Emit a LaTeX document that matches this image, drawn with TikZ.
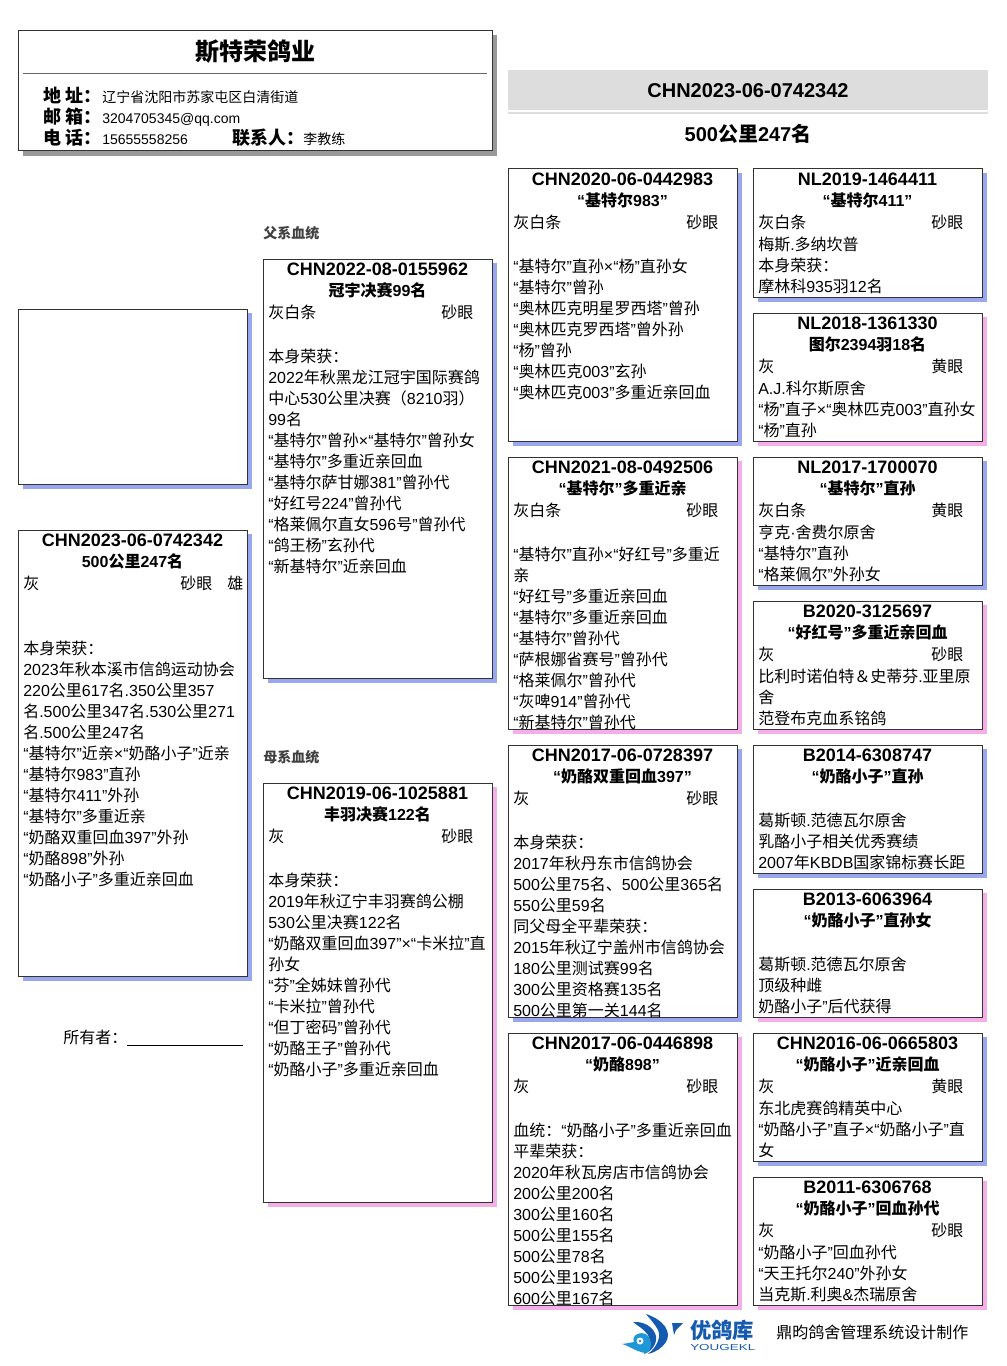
\documentclass[tikz,border=0pt]{standalone}
\usepackage{fontspec}
\usepackage{graphicx}
\setmainfont{Liberation Sans}
\newfontfamily\cjkfam{Noto Sans CJK SC}
\newcount\cjkcount
\newcommand{\cjkrange}[2]{\cjkcount=#1 \loop\ifnum\cjkcount<#2 \XeTeXcharclass\cjkcount=7 \advance\cjkcount by 1 \repeat}
\cjkrange{"3000}{"3040}
\cjkrange{"4E00}{"A000}
\cjkrange{"FF00}{"FFF0}
\XeTeXcharclass"201C=0
\XeTeXcharclass"201D=0
\XeTeXcharclass"00D7=0
\XeTeXcharclass"00B7=0
\XeTeXinterchartoks 0 7 = {\cjkfam}
\XeTeXinterchartoks 7 0 = {\rmfamily}
\XeTeXinterchartoks 4095 7 = {\cjkfam}
\XeTeXinterchartoks 4095 0 = {\rmfamily}
\XeTeXinterchartokenstate=1
\tikzset{
  frameline/.style={color={rgb, 255:red, 51; green, 51; blue, 51 }, line width=0.75pt, fill=white},
  blueback/.style={fill={rgb, 255:red, 153; green, 168; blue, 238 }},
  pinkback/.style={fill={rgb, 255:red, 244; green, 174; blue, 232 }},
  grayback/.style={fill={rgb, 255:red, 153; green, 153; blue, 153 }},
  bandback/.style={fill={rgb, 255:red, 221; green, 221; blue, 221 }},
  ringtext/.style={anchor=base, inner sep=0pt, yshift=-0.75pt, font=\bfseries\fontsize{13.5}{15.75}\selectfont},
  nametext/.style={anchor=base, inner sep=0pt, font=\bfseries\fontsize{12}{15.75}\selectfont},
  linetext/.style={anchor=base west, inner sep=0pt, font=\fontsize{12}{15.75}\selectfont},
  bodytext/.style={anchor=north west, inner sep=0pt, yshift=-2.25pt, align=left, font=\fontsize{12}{15.75}\selectfont, execute at begin node=\rule{0pt}{12pt}},
  headlabel/.style={anchor=base west, inner sep=0pt, yshift=-1.5pt, font=\bfseries\fontsize{13.5}{15.75}\selectfont},
  headvalue/.style={anchor=base west, inner sep=0pt, yshift=-1.1pt, font=\fontsize{10.5}{15.75}\selectfont},
  titletext/.style={anchor=base, inner sep=0pt, yshift=-0.75pt, font=\bfseries\fontsize{15}{18}\selectfont},
  sidetext/.style={anchor=base west, inner sep=0pt, text={rgb, 255:red, 64; green, 64; blue, 64 }, font=\bfseries\fontsize{10.5}{12}\selectfont},
  logodark/.style={fill={rgb, 255:red, 20; green, 90; blue, 175 }},
  logolight/.style={fill={rgb, 255:red, 30; green, 150; blue, 215 }}
}
\begin{document}
\begin{tikzpicture}[x=0.75pt,y=0.75pt,yscale=-1,xscale=1]
\useasboundingbox (0,0) rectangle (1006,1366);
\fill [grayback] (23,35) rectangle (497,156);
\draw [frameline] (18,31) rectangle (492,151);
\draw [color={rgb, 255:red, 102; green, 102; blue, 102 }, line width=0.75pt] (23,74) -- (487,74);
\draw (255,60) node [titletext, font=\bfseries\fontsize{18}{20}\selectfont] (loftname) {斯特荣鸽业};
\draw (43,101) node [headlabel] (addrlabel) {地 址：};
\draw (43,122) node [headlabel] (maillabel) {邮 箱：};
\draw (43,143) node [headlabel] (tellabel) {电 话：};
\draw (232,143) node [headlabel] (contactlabel) {联系人：};
\draw (102,101) node [headvalue] (addrvalue) {辽宁省沈阳市苏家屯区白清街道};
\draw (102,122) node [headvalue] (mailvalue) {3204705345@qq.com};
\draw (102,143) node [headvalue] (telvalue) {15655558256};
\draw (303,143) node [headvalue] (contactvalue) {李教练};
\fill [bandback] (508,70) rectangle (988,110);
\fill [bandback] (508,112) rectangle (988,114);
\draw (748,97) node [titletext] (bandring) {CHN2023-06-0742342};
\draw (748,141) node [titletext] (bandresult) {500公里247名};
\draw (263,238) node [sidetext] (sireside) {父系血统};
\draw (263,762) node [sidetext] (damside) {母系血统};
\fill [blueback] (23,313) rectangle (252,489);
\draw [frameline] (18,309) rectangle (247,484);
\fill [blueback] (23,534) rectangle (252,981);
\draw [frameline] (18,530) rectangle (247,976);
\draw (132.5,545.5) node [ringtext] (selfring) {CHN2023-06-0742342};
\draw (132.5,567) node [nametext] (selfname) {500公里247名};
\draw (23,589) node [linetext] (selfcolour) {灰};
\draw (180,589) node [linetext] (selfeye) {砂眼};
\draw (227,589) node [linetext] (selfsex) {雄};
\draw (23,638) node [bodytext] (selfbody) {本身荣获：\\2023年秋本溪市信鸽运动协会\\220公里617名.350公里357\\名.500公里347名.530公里271\\名.500公里247名\\“基特尔”近亲×“奶酪小子”近亲\\“基特尔983”直孙\\“基特尔411”外孙\\“基特尔”多重近亲\\“奶酪双重回血397”外孙\\“奶酪898”外孙\\“奶酪小子”多重近亲回血};
\draw (63,1043) node [linetext] (ownerlabel) {所有者：};
\coordinate (ownerstart) at (127,1045);
\coordinate (ownerend) at (243,1045);
\draw [line width=0.75pt] (ownerstart) -- (ownerend);
\fill [blueback] (268,263) rectangle (497,683);
\draw [frameline] (263,259) rectangle (492,678);
\draw (377.5,274.5) node [ringtext] (sirering) {CHN2022-08-0155962};
\draw (377.5,296) node [nametext] (sirename) {冠宇决赛99名};
\draw (268,318) node [linetext] (sirecolour) {灰白条};
\draw (441,318) node [linetext] (sireeye) {砂眼};
\draw (268,346) node [bodytext] (sirebody) {本身荣获：\\2022年秋黑龙江冠宇国际赛鸽\\中心530公里决赛（8210羽）\\99名\\“基特尔”曾孙×“基特尔”曾孙女\\“基特尔”多重近亲回血\\“基特尔萨甘娜381”曾孙代\\“好红号224”曾孙代\\“格莱佩尔直女596号”曾孙代\\“鸽王杨”玄孙代\\“新基特尔”近亲回血};
\fill [pinkback] (268,787) rectangle (497,1207);
\draw [frameline] (263,783) rectangle (492,1202);
\draw (377.5,798.5) node [ringtext] (damring) {CHN2019-06-1025881};
\draw (377.5,820) node [nametext] (damname) {丰羽决赛122名};
\draw (268,842) node [linetext] (damcolour) {灰};
\draw (441,842) node [linetext] (dameye) {砂眼};
\draw (268,870) node [bodytext] (dambody) {本身荣获：\\2019年秋辽宁丰羽赛鸽公棚\\530公里决赛122名\\“奶酪双重回血397”×“卡米拉”直\\孙女\\“芬”全姊妹曾孙代\\“卡米拉”曾孙代\\“但丁密码”曾孙代\\“奶酪王子”曾孙代\\“奶酪小子”多重近亲回血};
\fill [blueback] (513,173) rectangle (742,446);
\draw [frameline] (508,169) rectangle (737,441);
\draw (622.5,184.5) node [ringtext] (ssring) {CHN2020-06-0442983};
\draw (622.5,206) node [nametext] (ssname) {“基特尔983”};
\draw (513,228) node [linetext] (sscolour) {灰白条};
\draw (686,228) node [linetext] (sseye) {砂眼};
\draw (513,256) node [bodytext] (ssbody) {“基特尔”直孙×“杨”直孙女\\“基特尔”曾孙\\“奥林匹克明星罗西塔”曾孙\\“奥林匹克罗西塔”曾外孙\\“杨”曾孙\\“奥林匹克003”玄孙\\“奥林匹克003”多重近亲回血};
\fill [pinkback] (513,461) rectangle (742,734);
\draw [frameline] (508,457) rectangle (737,729);
\draw (622.5,472.5) node [ringtext] (sdring) {CHN2021-08-0492506};
\draw (622.5,494) node [nametext] (sdname) {“基特尔”多重近亲};
\draw (513,516) node [linetext] (sdcolour) {灰白条};
\draw (686,516) node [linetext] (sdeye) {砂眼};
\begin{scope}
\clip (508,457) rectangle (737,729);
\draw (513,544) node [bodytext] (sdbody) {“基特尔”直孙×“好红号”多重近\\亲\\“好红号”多重近亲回血\\“基特尔”多重近亲回血\\“基特尔”曾孙代\\“萨根娜省赛号”曾孙代\\“格莱佩尔”曾孙代\\“灰啤914”曾孙代\\“新基特尔”曾孙代};
\end{scope}
\fill [blueback] (513,749) rectangle (742,1022);
\draw [frameline] (508,745) rectangle (737,1017);
\draw (622.5,760.5) node [ringtext] (dsring) {CHN2017-06-0728397};
\draw (622.5,782) node [nametext] (dsname) {“奶酪双重回血397”};
\draw (513,804) node [linetext] (dscolour) {灰};
\draw (686,804) node [linetext] (dseye) {砂眼};
\begin{scope}
\clip (508,745) rectangle (737,1017);
\draw (513,832) node [bodytext] (dsbody) {本身荣获：\\2017年秋丹东市信鸽协会\\500公里75名、500公里365名\\550公里59名\\同父母全平辈荣获：\\2015年秋辽宁盖州市信鸽协会\\180公里测试赛99名\\300公里资格赛135名\\500公里第一关144名};
\end{scope}
\fill [pinkback] (513,1037) rectangle (742,1310);
\draw [frameline] (508,1033) rectangle (737,1305);
\draw (622.5,1048.5) node [ringtext] (ddring) {CHN2017-06-0446898};
\draw (622.5,1070) node [nametext] (ddname) {“奶酪898”};
\draw (513,1092) node [linetext] (ddcolour) {灰};
\draw (686,1092) node [linetext] (ddeye) {砂眼};
\begin{scope}
\clip (508,1033) rectangle (737,1305);
\draw (513,1120) node [bodytext] (ddbody) {血统：“奶酪小子”多重近亲回血\\平辈荣获：\\2020年秋瓦房店市信鸽协会\\200公里200名\\300公里160名\\500公里155名\\500公里78名\\500公里193名\\600公里167名};
\end{scope}
\fill [blueback] (758,173) rectangle (987,302);
\draw [frameline] (753,169) rectangle (982,297);
\draw (867.5,184.5) node [ringtext] (sssring) {NL2019-1464411};
\draw (867.5,206) node [nametext] (sssname) {“基特尔411”};
\draw (758,228) node [linetext] (ssscolour) {灰白条};
\draw (931,228) node [linetext] (ssseye) {砂眼};
\draw (758,234) node [bodytext] (sssbody) {梅斯.多纳坎普\\本身荣获：\\摩林科935羽12名};
\fill [pinkback] (758,317) rectangle (987,446);
\draw [frameline] (753,313) rectangle (982,441);
\draw (867.5,328.5) node [ringtext] (ssdring) {NL2018-1361330};
\draw (867.5,350) node [nametext] (ssdname) {图尔2394羽18名};
\draw (758,372) node [linetext] (ssdcolour) {灰};
\draw (931,372) node [linetext] (ssdeye) {黄眼};
\draw (758,378) node [bodytext] (ssdbody) {A.J.科尔斯原舍\\“杨”直子×“奥林匹克003”直孙女\\“杨”直孙};
\fill [blueback] (758,461) rectangle (987,590);
\draw [frameline] (753,457) rectangle (982,585);
\draw (867.5,472.5) node [ringtext] (sdsring) {NL2017-1700070};
\draw (867.5,494) node [nametext] (sdsname) {“基特尔”直孙};
\draw (758,516) node [linetext] (sdscolour) {灰白条};
\draw (931,516) node [linetext] (sdseye) {黄眼};
\draw (758,522) node [bodytext] (sdsbody) {亨克·舍费尔原舍\\“基特尔”直孙\\“格莱佩尔”外孙女};
\fill [pinkback] (758,605) rectangle (987,734);
\draw [frameline] (753,601) rectangle (982,729);
\draw (867.5,616.5) node [ringtext] (sddring) {B2020-3125697};
\draw (867.5,638) node [nametext] (sddname) {“好红号”多重近亲回血};
\draw (758,660) node [linetext] (sddcolour) {灰};
\draw (931,660) node [linetext] (sddeye) {砂眼};
\draw (758,666) node [bodytext] (sddbody) {比利时诺伯特＆史蒂芬.亚里原\\舍\\范登布克血系铭鸽};
\fill [blueback] (758,749) rectangle (987,878);
\draw [frameline] (753,745) rectangle (982,873);
\draw (867.5,760.5) node [ringtext] (dssring) {B2014-6308747};
\draw (867.5,782) node [nametext] (dssname) {“奶酪小子”直孙};
\draw (758,810) node [bodytext] (dssbody) {葛斯顿.范德瓦尔原舍\\乳酪小子相关优秀赛绩\\2007年KBDB国家锦标赛长距};
\fill [pinkback] (758,893) rectangle (987,1022);
\draw [frameline] (753,889) rectangle (982,1017);
\draw (867.5,904.5) node [ringtext] (dsdring) {B2013-6063964};
\draw (867.5,926) node [nametext] (dsdname) {“奶酪小子”直孙女};
\draw (758,954) node [bodytext] (dsdbody) {葛斯顿.范德瓦尔原舍\\顶级种雌\\奶酪小子”后代获得};
\fill [blueback] (758,1037) rectangle (987,1166);
\draw [frameline] (753,1033) rectangle (982,1161);
\draw (867.5,1048.5) node [ringtext] (ddsring) {CHN2016-06-0665803};
\draw (867.5,1070) node [nametext] (ddsname) {“奶酪小子”近亲回血};
\draw (758,1092) node [linetext] (ddscolour) {灰};
\draw (931,1092) node [linetext] (ddseye) {黄眼};
\draw (758,1098) node [bodytext] (ddsbody) {东北虎赛鸽精英中心\\“奶酪小子”直子×“奶酪小子”直\\女};
\fill [pinkback] (758,1181) rectangle (987,1310);
\draw [frameline] (753,1177) rectangle (982,1305);
\draw (867.5,1192.5) node [ringtext] (dddring) {B2011-6306768};
\draw (867.5,1214) node [nametext] (dddname) {“奶酪小子”回血孙代};
\draw (758,1236) node [linetext] (dddcolour) {灰};
\draw (931,1236) node [linetext] (dddeye) {砂眼};
\draw (758,1242) node [bodytext] (dddbody) {“奶酪小子”回血孙代\\“天王托尔240”外孙女\\当克斯.利奥\&杰瑞原舍};
\fill [logodark] (646,1314) .. controls (664,1320) and (672,1332) .. (666,1342) .. controls (662,1348) and (656,1352) .. (648,1354) .. controls (658,1346) and (661,1336) .. (658,1330) .. controls (655,1324) and (650,1319) .. (646,1314) -- cycle;
\fill [logodark] (633,1322) .. controls (645,1321) and (654,1328) .. (656,1336) .. controls (657,1344) and (652,1351) .. (644,1354) .. controls (650,1347) and (651,1340) .. (648,1335) .. controls (644,1329) and (638,1326) .. (633,1322) -- cycle;
\fill [logodark] (672,1323) -- (683,1323) -- (676,1330) -- (674,1335) -- cycle;
\fill [logolight] (622,1344) .. controls (630,1346) and (634,1351) .. (645,1353) .. controls (652,1352) and (653,1340) .. (647,1335) .. controls (640,1330) and (631,1336) .. (634,1342) .. controls (627,1343) and (625,1344) .. (622,1344) -- cycle;
\fill [white] (640,1341) circle [radius=3.5];
\fill [logolight] (640,1341) circle [radius=1.5];
\draw (690,1338) node [anchor=base west, inner sep=0pt, text={rgb, 255:red, 20; green, 90; blue, 175 }, font=\bfseries\fontsize{16}{18}\selectfont] (logotext) {优鸽库};
\draw (690,1350) node [anchor=base west, inner sep=0pt, text={rgb, 255:red, 20; green, 90; blue, 175 }, font=\fontsize{6.5}{8}\selectfont] (logolatin) {\scalebox{1.55}[1]{YOUGEKL}};
\draw (776,1338) node [linetext] (maker) {鼎昀鸽舍管理系统设计制作};
\end{tikzpicture}
\end{document}
